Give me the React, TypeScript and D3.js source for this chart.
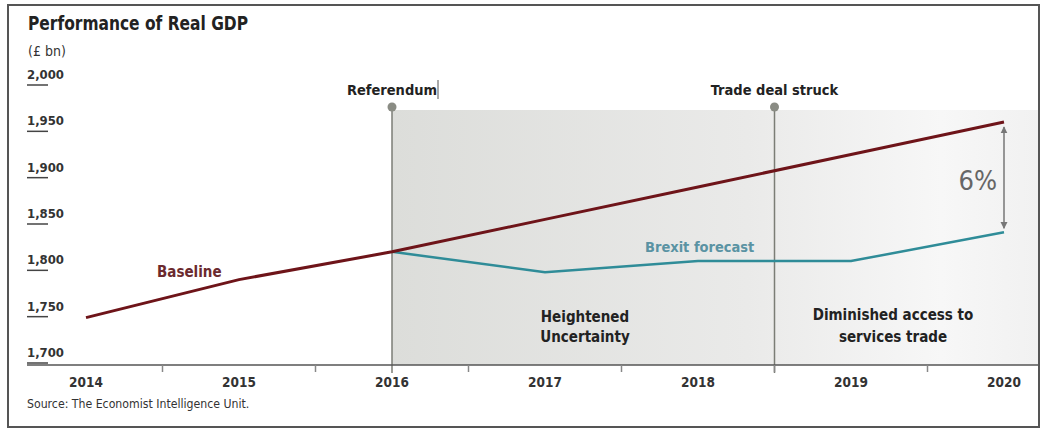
import React from "react";
import * as d3 from "d3";

const years = [2014, 2015, 2016, 2017, 2018, 2019, 2020];
const baselineValues = [1749, 1790, 1820, 1855, 1890, 1925, 1960];
const brexitYears = [2016, 2017, 2018, 2019, 2020];
const brexitValues = [1820, 1798, 1810, 1810, 1841];
const yTicks = [1700, 1750, 1800, 1850, 1900, 1950, 2000];
const halfTicks = [2014.5, 2015.5, 2016.5, 2017.5, 2018.5, 2019.5];
const eventYears = [2016, 2018.5];
const eventLabels = ["Referendum", "Trade deal struck"];

const FONT = "'Liberation Sans Narrow', 'DejaVu Sans Condensed', 'Roboto', sans-serif";

export default function App() {
  const W = 1046, H = 430;
  const x = d3.scaleLinear().domain([2014, 2020]).range([86, 1004]);
  const y = d3.scaleLinear().domain([1700, 2000]).range([363, 85]);
  const fmt = d3.format(",");

  const baseLine = d3.line<number>().x((_, i) => x(years[i])).y((d) => y(d))(baselineValues) || "";
  const brexLine = d3.line<number>().x((_, i) => x(brexitYears[i])).y((d) => y(d))(brexitValues) || "";

  const shadeX0 = x(2016);
  const shadeX1 = 1038;
  const shadeTop = 110;
  const axisY = 365;
  const endX = x(2020);
  const yBase = y(baselineValues[baselineValues.length - 1]);
  const yBrex = y(brexitValues[brexitValues.length - 1]);

  return (
    <svg width={W} height={H} style={{ position: "absolute", left: 0, top: 0, background: "#fff" }} fontFamily={FONT}>
      <defs>
        <linearGradient id="shade" x1="0" x2="1" y1="0" y2="0">
          <stop offset="0" stopColor="#dcdddA" />
          <stop offset="0.55" stopColor="#eaeae9" />
          <stop offset="0.85" stopColor="#f7f7f7" />
          <stop offset="1" stopColor="#f1f1f1" />
        </linearGradient>
        <marker id="ah" viewBox="0 0 10 10" refX="9" refY="5" markerWidth="7" markerHeight="9" orient="auto-start-reverse" markerUnits="userSpaceOnUse">
          <path d="M0,0 L10,5 L0,10 z" fill="#777" />
        </marker>
      </defs>
      {/* frame */}
      <rect x={8} y={5} width={1031} height={422} fill="none" stroke="#555" strokeWidth={2} />

      {/* title */}
      <text x={28} y={30} fontSize={19} fontWeight="bold" fill="#222" textLength={220} lengthAdjust="spacingAndGlyphs">Performance of Real GDP</text>
      <text x={28} y={56} fontSize={14} fill="#333">(£ bn)</text>

      {/* shaded area */}
      <rect x={shadeX0} y={shadeTop} width={shadeX1 - shadeX0} height={axisY - shadeTop} fill="url(#shade)" />

      {/* y tick labels */}
      {yTicks.map((t) => (
        <g key={t}>
          <text x={27} y={y(t) - 6} fontSize={13} fontWeight="bold" fill="#333">{fmt(t)}</text>
          <line x1={27} x2={48} y1={y(t)} y2={y(t)} stroke="#444" strokeWidth={1.5} />
        </g>
      ))}

      {/* event lines */}
      {eventYears.map((ey, i) => (
        <g key={ey}>
          <line x1={x(ey)} x2={x(ey)} y1={107} y2={axisY + 8} stroke="#7b7d76" strokeWidth={1.5} />
          <circle cx={x(ey)} cy={107} r={4.5} fill="#8a8c84" />
          <text x={x(ey)} y={95} fontSize={14.5} fontWeight="bold" fill="#222" textAnchor="middle">{eventLabels[i]}</text>
        </g>
      ))}
      <line x1={438} x2={438} y1={80} y2={99} stroke="#555" strokeWidth={1} />

      {/* x axis */}
      <line x1={27} x2={1038} y1={axisY} y2={axisY} stroke="#555" strokeWidth={1.5} />
      {halfTicks.map((t) => (
        <line key={t} x1={x(t)} x2={x(t)} y1={axisY} y2={axisY + 7} stroke="#888" strokeWidth={1.5} />
      ))}
      {years.map((yr) => (
        <text key={yr} x={x(yr)} y={387} fontSize={13.5} fontWeight="bold" fill="#333" textAnchor="middle">{yr}</text>
      ))}

      {/* lines */}
      <path d={brexLine} fill="none" stroke="#2f8c98" strokeWidth={2.5} />
      <path d={baseLine} fill="none" stroke="#6e1419" strokeWidth={3} />

      {/* series labels */}
      <text x={157} y={277} fontSize={15} fontWeight="bold" fill="#6b2a2e">Baseline</text>
      <text x={645} y={252} fontSize={14.5} fontWeight="bold" fill="#5a93a3">Brexit forecast</text>

      {/* period labels */}
      <text x={585} y={322} fontSize={15} fontWeight="bold" fill="#222" textAnchor="middle">
        <tspan x={585}>Heightened</tspan>
        <tspan x={585} dy={20}>Uncertainty</tspan>
      </text>
      <text x={893} y={320} fontSize={15} fontWeight="bold" fill="#222" textAnchor="middle">
        <tspan x={893}>Diminished access to</tspan>
        <tspan x={893} dy={22}>services trade</tspan>
      </text>

      {/* 6% arrow */}
      <line x1={endX} x2={endX} y1={yBase + 5} y2={yBrex - 4} stroke="#777" strokeWidth={1.5} markerStart="url(#ah)" markerEnd="url(#ah)" />
      <text x={997} y={190} fontSize={27} fill="#666" textAnchor="end">6%</text>

      {/* source */}
      <text x={27} y={408} fontSize={12.2} fill="#333">Source: The Economist Intelligence Unit.</text>
    </svg>
  );
}
